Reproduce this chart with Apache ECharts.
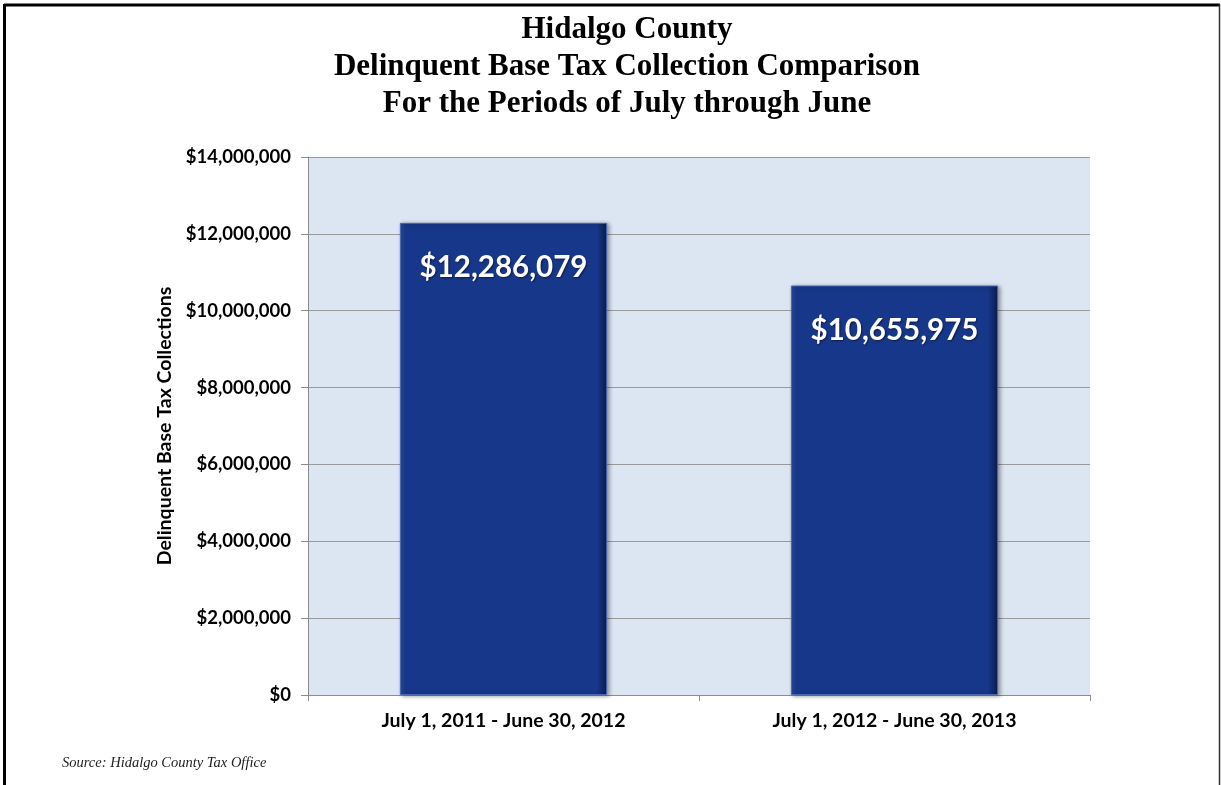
<!DOCTYPE html>
<html>
<head>
<meta charset="utf-8">
<script src="https://cdn.jsdelivr.net/npm/echarts@6/dist/echarts.min.js"></script>
<style>
html,body{margin:0;padding:0;background:#fff;}
#chart{width:1221px;height:785px;}
</style>
</head>
<body>
<div id="chart"></div>
<script>
const categories = ['July 1, 2011 - June 30, 2012', 'July 1, 2012 - June 30, 2013'];
const values = [12286079, 10655975];
const titleLines = ['Hidalgo County', 'Delinquent Base Tax Collection Comparison', 'For the Periods of July through June'];
const yAxisName = 'Delinquent Base Tax Collections';
const sourceText = 'Source: Hidalgo County Tax Office';

function money(v) {
  return '$' + Math.round(v).toString().replace(/\B(?=(\d{3})+(?!\d))/g, ',');
}

const chart = echarts.init(document.getElementById('chart'), null, {renderer: 'canvas'});
const sansFont = 'Lato, "Open Sans", "Liberation Sans", sans-serif';

chart.setOption({
  animation: false,
  backgroundColor: '#ffffff',
  title: {
    text: titleLines.join('\n'),
    left: 622,
    textAlign: 'center',
    top: 6,
    textStyle: {
      fontFamily: '"Liberation Serif", "Times New Roman", serif',
      fontWeight: 'bold',
      fontSize: 31,
      lineHeight: 37,
      color: '#000'
    }
  },
  grid: {
    left: 308,
    right: 131,
    top: 157,
    bottom: 90,
    show: true,
    backgroundColor: '#dce6f2',
    borderWidth: 0
  },
  xAxis: {
    type: 'category',
    data: categories,
    axisLine: {show: true, lineStyle: {color: '#8c8c8c', width: 1}},
    axisTick: {show: true, length: 6, lineStyle: {color: '#8c8c8c'}},
    axisLabel: {
      fontFamily: sansFont,
      fontWeight: 'bold',
      fontSize: 19.5,
      color: '#000',
      margin: 16
    }
  },
  yAxis: {
    type: 'value',
    min: 0,
    max: 14000000,
    interval: 2000000,
    name: yAxisName,
    nameLocation: 'middle',
    nameGap: 125,
    nameRotate: 90,
    nameTextStyle: {
      fontFamily: sansFont,
      fontWeight: 'bold',
      fontSize: 19.5,
      color: '#000'
    },
    axisLine: {show: true, lineStyle: {color: '#8c8c8c', width: 1}},
    axisTick: {show: true, length: 7, inside: false, lineStyle: {color: '#8c8c8c'}},
    axisLabel: {
      fontFamily: sansFont,
      fontWeight: 'bold',
      fontSize: 18.5,
      color: '#000',
      margin: 17,
      formatter: money
    },
    splitLine: {show: true, lineStyle: {color: '#9a9a9a', width: 1}}
  },
  series: [{
    type: 'bar',
    data: values,
    barWidth: '53%',
    itemStyle: {
      color: {
        type: 'linear', x: 0, y: 0, x2: 1, y2: 0,
        colorStops: [
          {offset: 0, color: '#2a4a9c'},
          {offset: 0.03, color: '#17378a'},
          {offset: 0.95, color: '#17378a'},
          {offset: 1, color: '#0b1c4f'}
        ]
      },
      borderColor: '#4a67b0',
      borderWidth: 1,
      shadowColor: 'rgba(0,0,0,0.35)',
      shadowBlur: 4,
      shadowOffsetX: 2,
      shadowOffsetY: 1
    },
    label: {
      show: true,
      position: 'insideTop',
      distance: 30,
      formatter: function (p) { return money(p.value); },
      fontFamily: sansFont,
      fontWeight: 'bold',
      fontSize: 29.5,
      color: '#ffffff',
      textShadowColor: 'rgba(0,0,0,0.5)',
      textShadowBlur: 2,
      textShadowOffsetX: 1,
      textShadowOffsetY: 1
    }
  }],
  graphic: [
    {type: 'line', shape: {x1: 4, y1: 5, x2: 1220, y2: 5}, style: {stroke: '#000', lineWidth: 3}},
    {type: 'line', shape: {x1: 4.5, y1: 4, x2: 4.5, y2: 785}, style: {stroke: '#000', lineWidth: 3}},
    {type: 'line', shape: {x1: 1219.5, y1: 4, x2: 1219.5, y2: 785}, style: {stroke: '#333', lineWidth: 1.5}},
    {
      type: 'text', left: 62, top: 756,
      style: {
        text: sourceText,
        fontFamily: '"Liberation Serif", "Times New Roman", serif',
        fontStyle: 'italic',
        fontSize: 14.5,
        fill: '#222'
      }
    }
  ]
});
</script>
</body>
</html>
